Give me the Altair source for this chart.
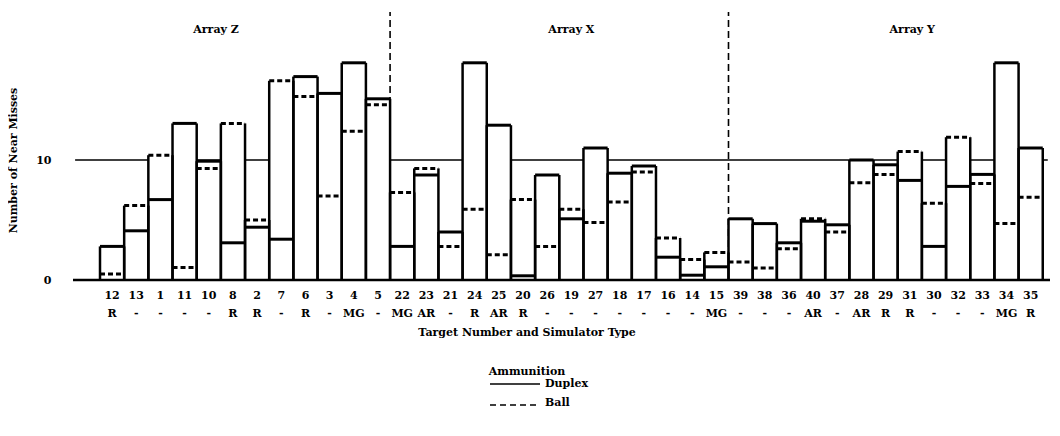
import altair as alt
import pandas as pd

F = "DejaVu Serif"

arrays = ["Array Z", "Array X", "Array Y"]

targets_z = ["12", "13", "1", "11", "10", "8", "2", "7", "6", "3", "4", "5"]
targets_x = ["22", "23", "21", "24", "25", "20", "26", "19", "27", "18", "17", "16", "14", "15"]
targets_y = ["39", "38", "36", "40", "37", "28", "29", "31", "30", "32", "33", "34", "35"]

sim_z = ["R", "-", "-", "-", "-", "R", "R", "-", "R", "-", "MG", "-"]
sim_x = ["MG", "AR", "-", "R", "AR", "R", "-", "-", "-", "-", "-", "-", "-", "MG"]
sim_y = ["-", "-", "-", "AR", "-", "AR", "R", "R", "-", "-", "-", "MG", "R"]

duplex_z = [2.8, 4.1, 6.7, 13.05, 9.9, 3.1, 4.4, 3.4, 16.95, 15.55, 18.1, 15.1]
duplex_x = [2.8, 8.75, 4.0, 18.1, 12.9, 0.35, 8.75, 5.1, 11.0, 8.9, 9.5, 1.9, 0.4, 1.1]
duplex_y = [5.1, 4.7, 3.1, 4.9, 4.6, 10.0, 9.6, 8.3, 2.8, 7.8, 8.8, 18.1, 11.0]

ball_z = [0.5, 6.2, 10.4, 1.05, 9.3, 13.05, 5.0, 16.6, 15.3, 7.0, 12.4, 14.6]
ball_x = [7.3, 9.3, 2.8, 5.9, 2.1, 6.7, 2.8, 5.9, 4.8, 6.5, 9.0, 3.5, 1.7, 2.3]
ball_y = [1.5, 1.0, 2.6, 5.1, 4.0, 8.1, 8.8, 10.7, 6.4, 11.9, 8.05, 4.7, 6.9]

reference_level = 10

targets = targets_z + targets_x + targets_y
df = pd.DataFrame({
    "target": targets,
    "sim": sim_z + sim_x + sim_y,
    "duplex": duplex_z + duplex_x + duplex_y,
    "ball": ball_z + ball_x + ball_y,
})
df["i"] = range(len(df))
df["i1"] = df["i"] + 1
df["mid"] = df["i"] + 0.5
df["top"] = df[["duplex", "ball"]].max(axis=1)

n = len(df)
x_lo, x_hi = -1.117, n + 0.3
xs = alt.Scale(domain=[x_lo, x_hi], nice=False, zero=False)
ys = alt.Scale(domain=[0, 20], nice=False, zero=True)
yax = alt.Axis(values=[0, 10], ticks=False, domain=False, grid=False,
               labelPadding=22, labelFont=F, labelFontWeight="bold",
               labelFontSize=11, labelColor="black",
               title="Number of Near Misses", titleFont=F, titleFontSize=11,
               titleFontWeight="bold", titleColor="black", titlePadding=17)


def X(f):
    return alt.X(f, type="quantitative", scale=xs, axis=None)


def Y(f):
    return alt.Y(f, type="quantitative", scale=ys, axis=yax)


one = pd.DataFrame({"k": [0]})
base = alt.Chart(df)

ref_solid = alt.Chart(one).mark_rule(color="black", strokeWidth=1.5).encode(
    x=alt.XDatum(-1.03, scale=xs, axis=None), x2=alt.X2Datum(n),
    y=alt.YDatum(reference_level, scale=ys, axis=yax))
ref_dash = alt.Chart(one).mark_rule(color="black", strokeWidth=1.5, strokeDash=[5, 4]).encode(
    x=alt.XDatum(n, scale=xs, axis=None), x2=alt.X2Datum(x_hi),
    y=alt.YDatum(reference_level, scale=ys, axis=yax))

div = pd.DataFrame({"b": [len(targets_z), len(targets_z) + len(targets_x)]})
dividers = alt.Chart(div).mark_rule(color="black", strokeWidth=1.6, strokeDash=[7, 4]).encode(
    x=X("b"), y=alt.YDatum(0, scale=ys, axis=yax), y2=alt.value(-28))

fill = base.mark_rect(fill="white").encode(
    x=X("i"), x2="i1", y=Y("top"), y2=alt.Y2Datum(0))
left = base.mark_rule(color="black", strokeWidth=2.5).encode(
    x=X("i"), y=Y("top"), y2=alt.Y2Datum(0))
right = base.mark_rule(color="black", strokeWidth=2.5).encode(
    x=X("i1"), y=Y("top"), y2=alt.Y2Datum(0))
dup = base.mark_rule(color="black", strokeWidth=3).encode(
    x=X("i"), x2="i1", y=Y("duplex"))
bal = base.mark_rule(color="black", strokeWidth=3, strokeDash=[5, 3]).encode(
    x=X("i"), x2="i1", y=Y("ball"))

zero = alt.Chart(one).mark_rule(color="black", strokeWidth=2.5).encode(
    x=alt.XDatum(x_lo, scale=xs, axis=None), x2=alt.X2Datum(x_hi),
    y=alt.YDatum(0, scale=ys, axis=yax))

txt = dict(font=F, fontWeight="bold", fontSize=11, color="black")
nums = base.mark_text(**txt).encode(x=X("mid"), y=alt.value(256), text="target")
sims = base.mark_text(**txt).encode(x=X("mid"), y=alt.value(274), text="sim")

xtitle = alt.Chart(one).mark_text(**txt).encode(
    x=alt.value(454), y=alt.value(293), text=alt.value("Target Number and Simulator Type"))

titles = []
for name, pos in zip(arrays, [4.8, 19.5, 33.6]):
    titles.append(alt.Chart(one).mark_text(**txt).encode(
        x=alt.XDatum(pos, scale=xs, axis=None), y=alt.value(-10), text=alt.value(name)))

leg_title = alt.Chart(one).mark_text(**txt).encode(
    x=alt.value(454), y=alt.value(332), text=alt.value("Ammunition"))
leg_dup = alt.Chart(one).mark_rule(color="black", strokeWidth=1.5).encode(
    x=alt.value(417), x2=alt.value(467), y=alt.value(344))
leg_bal = alt.Chart(one).mark_rule(color="black", strokeWidth=1.5, strokeDash=[6, 4]).encode(
    x=alt.value(417), x2=alt.value(467), y=alt.value(365))
leg_dup_t = alt.Chart(one).mark_text(align="left", **txt).encode(
    x=alt.value(472), y=alt.value(344), text=alt.value("Duplex"))
leg_bal_t = alt.Chart(one).mark_text(align="left", **txt).encode(
    x=alt.value(472), y=alt.value(363), text=alt.value("Ball"))

chart = alt.layer(
    ref_solid, ref_dash, dividers, fill, left, right, dup, bal, zero,
    nums, sims, xtitle, *titles, leg_title, leg_dup, leg_bal, leg_dup_t, leg_bal_t
).properties(
    width=977, height=240,
    autosize=alt.AutoSizeParams(type="none"),
    padding={"left": 65, "top": 32, "right": 2, "bottom": 140},
).configure_view(stroke=None)

chart.save("out.html", embed_options={"renderer": "svg", "actions": False})
